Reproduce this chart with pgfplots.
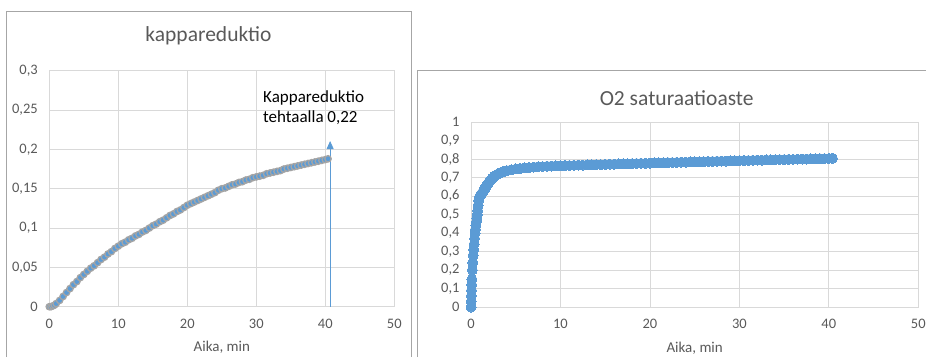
\documentclass[border=0pt]{standalone}
\usepackage{pgfplots}
\pgfplotsset{compat=1.18}
\usepackage{fontspec}
\setmainfont{Carlito}
\usetikzlibrary{arrows.meta}
\definecolor{gridc}{HTML}{D9D9D9}
\definecolor{txt}{HTML}{595959}
\definecolor{mblue}{HTML}{5B9BD5}
\definecolor{mgray}{HTML}{A5A5A5}
\definecolor{framec}{HTML}{A6A6A6}
\pgfplotsset{
  excelstyle/.style={
    scale only axis,
    anchor=south west,
    clip=false,
    xmin=0, xmax=50,
    xtick={0,10,20,30,40,50},
    grid=major,
    grid style={gridc, line width=0.8pt},
    axis line style={gridc, line width=0.8pt},
    major tick length=0pt,
    tick style={draw=none},
    ticklabel style={font=\fontsize{14.5}{16}\selectfont, text=txt},
    xticklabel style={yshift=-8.5pt},
    yticklabel style={xshift=-8pt},
    /pgf/number format/assume math mode=true,
    xlabel={Aika, min},
    xlabel style={font=\fontsize{15}{17}\selectfont, text=txt, at={(rel axis cs:0.5,0)}, anchor=center},
  }
}
\begin{document}
\begin{tikzpicture}
\useasboundingbox (0pt,0pt) rectangle (926pt,357pt);
\draw[framec, line width=0.8pt] (6pt,0pt) -- (6pt,346pt) -- (411pt,346pt) -- (411pt,0pt);
\draw[framec, line width=0.8pt] (417.3pt,0pt) -- (417.3pt,287pt) -- (926pt,287pt);
\node[txt, font=\fontsize{21.5}{24}\selectfont] at (208.5pt,321pt) {kappareduktio};
\node[txt, font=\fontsize{21.5}{24}\selectfont] at (676.7pt,258.7pt) {O2 saturaatioaste};

\begin{axis}[excelstyle,
  at={(49.3pt,50.3pt)}, width=345pt, height=236pt,
  ymin=0, ymax=0.3,
  ytick={0,0.05,0.1,0.15,0.2,0.25,0.3},
  yticklabels={0,{0,05},{0,1},{0,15},{0,2},{0,25},{0,3}},
  xlabel style={yshift=-40.3pt},
]
\addplot[only marks, mark=*, mark size=3.2pt, mark options={fill=mblue, draw=mgray, line width=1.3pt}]
coordinates {
(0,0.000) (0.25,0.000) (0.5,0.001) (0.75,0.002) (1.0,0.004) (1.5,0.008) (2.0,0.013) (2.5,0.018)
(3.0,0.023) (3.5,0.028) (4.0,0.032) (4.5,0.037) (5.0,0.041) (5.5,0.045)
(6.0,0.049) (6.5,0.052) (7.0,0.056) (7.5,0.060) (8.0,0.063) (8.5,0.067)
(9.0,0.070) (9.5,0.074) (10.0,0.077) (10.5,0.080) (11.0,0.082) (11.5,0.085)
(12.0,0.087) (12.5,0.090) (13.0,0.092) (13.5,0.095) (14.0,0.097) (14.5,0.100)
(15.0,0.103) (15.5,0.105) (16.0,0.108) (16.5,0.110) (17.0,0.113) (17.5,0.116)
(18.0,0.118) (18.5,0.121) (19.0,0.123) (19.5,0.126) (20.0,0.129) (20.5,0.131)
(21.0,0.133) (21.5,0.135) (22.0,0.137) (22.5,0.139) (23.0,0.141) (23.5,0.143)
(24.0,0.145) (24.5,0.148) (25.0,0.150) (25.5,0.151) (26.0,0.153) (26.5,0.155)
(27.0,0.156) (27.5,0.158) (28.0,0.159) (28.5,0.161) (29.0,0.162) (29.5,0.164)
(30.0,0.165) (30.5,0.166) (31.0,0.167) (31.5,0.169) (32.0,0.170) (32.5,0.171)
(33.0,0.172) (33.5,0.173) (34.0,0.175) (34.5,0.176) (35.0,0.177) (35.5,0.178)
(36.0,0.179) (36.5,0.180) (37.0,0.181) (37.5,0.182) (38.0,0.183) (38.5,0.184)
(39.0,0.185) (39.5,0.186) (40.0,0.187) (40.4,0.188)
};
\draw[mblue, line width=0.8pt, -{Triangle[width=7pt,length=8pt]}] (axis cs:40.7,0) -- (axis cs:40.7,0.2106);
\end{axis}
\node[anchor=north west, inner sep=0pt, align=left, font=\fontsize{17}{20.5}\selectfont, text=black] at (263pt,267pt) {Kappareduktio\\tehtaalla 0,22};

\begin{axis}[excelstyle,
  at={(471pt,50pt)}, width=447.3pt, height=185pt,
  ymin=0, ymax=1,
  ytick={0,0.1,0.2,0.3,0.4,0.5,0.6,0.7,0.8,0.9,1},
  yticklabels={0,{0,1},{0,2},{0,3},{0,4},{0,5},{0,6},{0,7},{0,8},{0,9},1},
  xlabel style={yshift=-41.3pt},
]
\addplot[only marks, mark=*, mark size=5pt, mark options={fill=mblue, draw=mblue, line width=0pt}]
coordinates {
(0,0) (0.02,0.03) (0.04,0.06) (0.06,0.09) (0.08,0.12) (0.1,0.15) (0.15,0.20)
(0.2,0.24) (0.25,0.28) (0.3,0.31) (0.35,0.34) (0.4,0.37) (0.45,0.40) (0.5,0.42)
(0.55,0.44) (0.6,0.46) (0.65,0.48) (0.7,0.50) (0.75,0.52) (0.8,0.55) (0.85,0.575)
(0.9,0.59) (1.0,0.60) (1.1,0.607) (1.2,0.613) (1.3,0.62) (1.4,0.628) (1.5,0.636)
(1.6,0.644) (1.7,0.652) (1.8,0.66) (1.9,0.667) (2.0,0.674) (2.2,0.686) (2.4,0.697)
(2.6,0.706) (2.8,0.713) (3.0,0.719) (3.25,0.725) (3.5,0.730) (3.75,0.734) (4.0,0.737)
(4.5,0.742) (5.0,0.746) (5.5,0.749) (6.0,0.752) (6.5,0.754) (7.0,0.756) (7.5,0.758)
(8.0,0.759) (8.5,0.761) (9.0,0.762) (9.5,0.763) (10,0.764) (10.5,0.765) (11,0.765)
(11.5,0.766) (12,0.767) (12.5,0.767) (13,0.768) (13.5,0.769) (14,0.770) (14.5,0.770)
(15,0.771) (15.5,0.772) (16,0.772) (16.5,0.773) (17,0.774) (17.5,0.774) (18,0.775)
(18.5,0.776) (19,0.777) (19.5,0.777) (20,0.778) (20.5,0.779) (21,0.779) (21.5,0.780)
(22,0.781) (22.5,0.781) (23,0.782) (23.5,0.783) (24,0.783) (24.5,0.784) (25,0.785)
(25.5,0.785) (26,0.786) (26.5,0.787) (27,0.787) (27.5,0.788) (28,0.789) (28.5,0.789)
(29,0.790) (29.5,0.790) (30,0.791) (30.5,0.792) (31,0.792) (31.5,0.793) (32,0.794)
(32.5,0.794) (33,0.795) (33.5,0.795) (34,0.796) (34.5,0.797) (35,0.797) (35.5,0.798)
(36,0.798) (36.5,0.799) (37,0.800) (37.5,0.800) (38,0.801) (38.5,0.801) (39,0.802)
(39.5,0.802) (40,0.803) (40.4,0.804)
};
\end{axis}
\end{tikzpicture}
\end{document}
